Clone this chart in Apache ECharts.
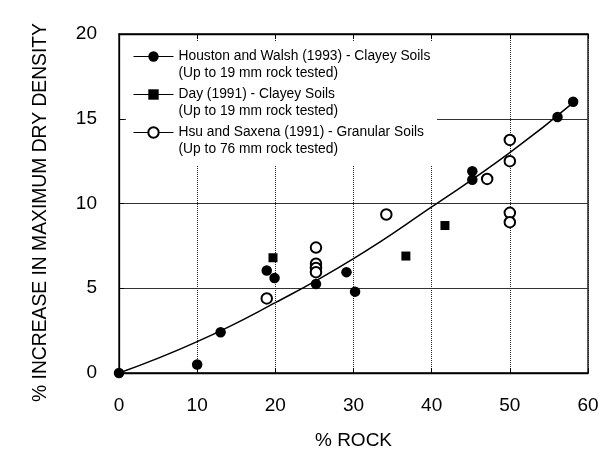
<!DOCTYPE html>
<html>
<head>
<meta charset="utf-8">
<script src="https://cdn.jsdelivr.net/npm/echarts@6/dist/echarts.min.js"></script>
<style>
html,body{margin:0;padding:0;background:#fff;}
#c{width:602px;height:455px;}
</style>
</head>
<body>
<div id="c"></div>
<script>
// Houston and Walsh (1993) - filled circles
const houstonX = [0, 10, 13, 18.9, 19.9, 25.2, 29.1, 30.2, 45.2, 45.2, 56.1, 58.1];
const houstonY = [0, 0.5, 2.4, 6.05, 5.6, 5.25, 5.95, 4.8, 11.9, 11.4, 15.1, 16.0];
// Day (1991) - filled squares
const dayX = [19.7, 36.7, 41.7];
const dayY = [6.8, 6.9, 8.7];
// Hsu and Saxena (1991) - open circles
const hsuX = [18.9, 25.2, 25.2, 25.2, 25.2, 34.2, 47.1, 50, 50, 50, 50];
const hsuY = [4.4, 7.4, 6.45, 6.2, 5.95, 9.35, 11.45, 13.75, 12.5, 9.45, 8.9];
// Fitted trend curve
const curveX = [0, 10, 20, 30, 40, 50, 58.5];
const curveY = [0, 1.85, 4.15, 6.75, 9.8, 13.0, 16.1];

const xTicks = [0, 10, 20, 30, 40, 50, 60];
const yTicks = [0, 5, 10, 15, 20];

const seriesNames = ['Houston and Walsh (1993) - Clayey Soils', 'Day (1991) - Clayey Soils', 'Hsu and Saxena (1991) - Granular Soils'];
const seriesNotes = ['(Up to 19 mm rock tested)', '(Up to 19 mm rock tested)', '(Up to 76 mm rock tested)'];

const zip = (xs, ys) => xs.map((x, i) => [x, ys[i]]);
const FONT = '"Liberation Sans", Arial, Helvetica, sans-serif';

const chart = echarts.init(document.getElementById('c'), null, {renderer: 'canvas'});
const pointSeries = (name, xs, ys, symbol, size) => ({
  name: name, type: 'line', data: zip(xs, ys), symbol: symbol, symbolSize: size,
  showSymbol: true, showAllSymbol: true, silent: true, z: 3,
  lineStyle: {opacity: 0, width: 1, color: '#000'},
  itemStyle: {color: '#000', borderColor: '#000', borderWidth: symbol === 'emptyCircle' ? 1.2 : 0},
  emphasis: {disabled: true}, animation: false
});

chart.setOption({
  backgroundColor: '#fff',
  animation: false,
  textStyle: {fontFamily: FONT},
  grid: {left: 119, right: 14, top: 34, bottom: 80, show: true, borderColor: '#000', borderWidth: 1.3, backgroundColor: 'transparent'},
  xAxis: [{
    type: 'value', min: 0, max: 60, interval: 10, position: 'bottom',
    name: '% ROCK', nameLocation: 'middle', nameGap: 58,
    nameTextStyle: {fontSize: 19, color: '#000', fontFamily: FONT},
    axisLine: {show: true, lineStyle: {color: '#000', width: 1.3}},
    axisTick: {show: true, inside: true, length: 5, lineStyle: {color: '#000'}},
    axisLabel: {fontSize: 19, color: '#000', margin: 23, fontFamily: FONT,
      formatter: v => xTicks.includes(v) ? String(v) : ''},
    splitLine: {show: true, lineStyle: {color: '#222', type: [1, 1], width: 1}}
  }, {
    type: 'value', min: 0, max: 60, interval: 10, position: 'top',
    axisLine: {show: true, lineStyle: {color: '#000', width: 1.3}},
    axisTick: {show: true, inside: true, length: 5, lineStyle: {color: '#000'}},
    axisLabel: {show: false}, splitLine: {show: false}
  }],
  yAxis: [{
    type: 'value', min: 0, max: 20, interval: 5,
    name: '% INCREASE IN MAXIMUM DRY DENSITY', nameLocation: 'middle', nameGap: 69,
    nameTextStyle: {fontSize: 19.3, color: '#000', fontFamily: FONT, padding: [0, 18, 0, 0]},
    axisLine: {show: true, lineStyle: {color: '#000', width: 1.3}},
    axisTick: {show: true, inside: true, length: 5, lineStyle: {color: '#000'}},
    axisLabel: {fontSize: 19, color: '#000', margin: 22, fontFamily: FONT,
      formatter: v => yTicks.includes(v) ? String(v) : ''},
    splitLine: {show: true, lineStyle: {color: '#333', width: 1}}
  }],
  graphic: [{
    type: 'rect', z: 1, silent: true,
    shape: {x: 126, y: 42, width: 311, height: 124},
    style: {fill: '#fff'}
  }],
  legend: {
    show: true, orient: 'vertical', left: 133, top: 31, padding: 0, itemGap: -13,
    itemWidth: 40, itemHeight: 13,
    data: seriesNames,
    formatter: name => '\n' + name + '\n' + seriesNotes[seriesNames.indexOf(name)],
    textStyle: {fontSize: 13.8, lineHeight: 17, color: '#000', fontFamily: FONT},
    lineStyle: {color: '#000', width: 1, opacity: 1, type: 'solid'},
    selectedMode: false
  },
  series: [
    {
      name: 'curve', type: 'line', data: zip(curveX, curveY), smooth: true, symbol: 'none',
      lineStyle: {color: '#000', width: 1.5}, z: 2, silent: true
    },
    pointSeries(seriesNames[0], houstonX, houstonY, 'circle', 10.5),
    pointSeries(seriesNames[1], dayX, dayY, 'rect', 9),
    pointSeries(seriesNames[2], hsuX, hsuY, 'emptyCircle', 10.5)
  ]
});
</script>
</body>
</html>
